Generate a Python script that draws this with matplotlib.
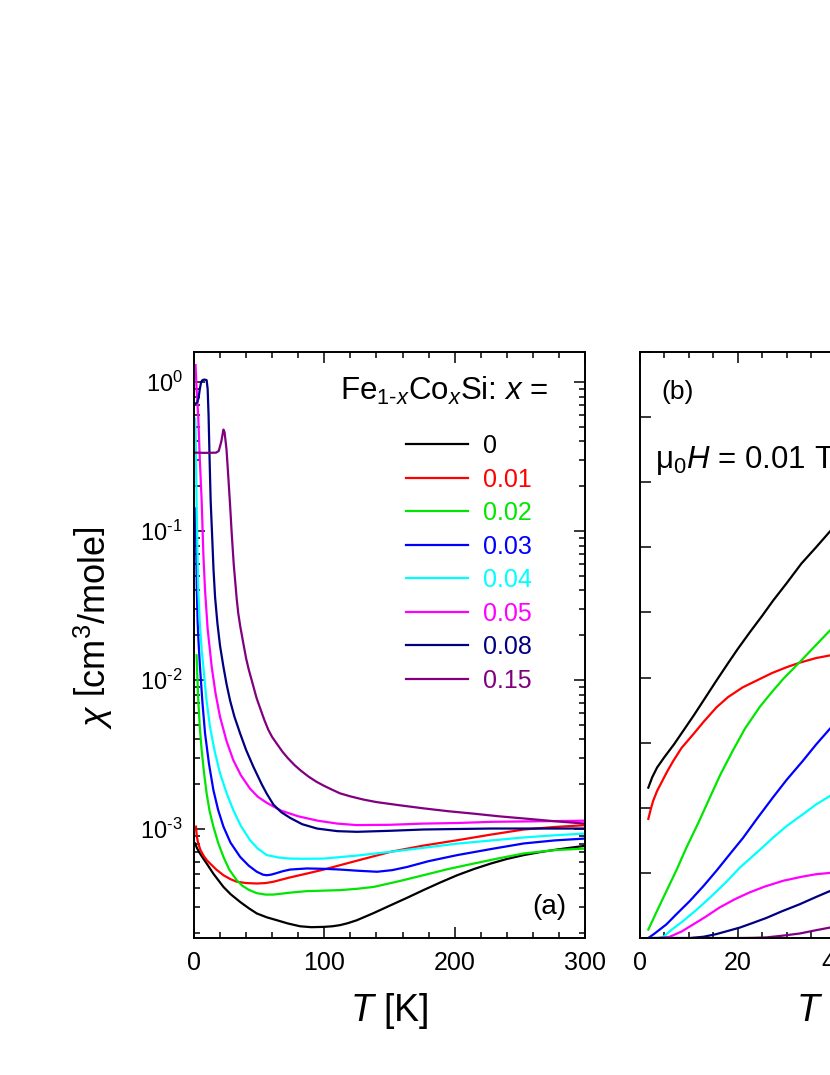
import matplotlib
matplotlib.use('Agg')
import numpy as np
import matplotlib.pyplot as plt
from matplotlib.ticker import MultipleLocator, LogLocator, NullFormatter, FuncFormatter

plt.rcParams['font.family'] = ['Liberation Sans', 'DejaVu Sans']
plt.rcParams['mathtext.fontset'] = 'custom'
plt.rcParams['mathtext.rm'] = 'Liberation Sans'
plt.rcParams['mathtext.it'] = 'Liberation Sans:italic'
plt.rcParams['mathtext.bf'] = 'Liberation Sans:bold'
plt.rcParams['axes.unicode_minus'] = False

# compositions and colours
labels = ['0', '0.01', '0.02', '0.03', '0.04', '0.05', '0.08', '0.15']
colors = ['black', '#ff0000', '#00e600', '#0000ff', '#00ffff', '#ff00ff', '#000080', '#800080']

# panel (a): chi(T) on log scale, cm^3/mole
T_0 = [0.8, 2.5, 4.6, 7, 9.7, 15, 22.6, 28, 35.4, 42, 48.2, 56, 63.6, 72, 81.5, 90, 99.5, 106,
       112, 118, 125, 138, 151, 164, 176, 189, 202, 215, 228, 240, 253, 266, 279, 290, 300]
chi_0 = [8.02e-4, 7.41e-4, 6.87e-4, 6.38e-4, 5.89e-4, 5.01e-4, 4.10e-4, 3.67e-4, 3.25e-4, 2.95e-4,
         2.72e-4, 2.56e-4, 2.45e-4, 2.33e-4, 2.23e-4, 2.20e-4, 2.21e-4, 2.23e-4, 2.27e-4, 2.34e-4,
         2.45e-4, 2.74e-4, 3.09e-4, 3.48e-4, 3.90e-4, 4.39e-4, 4.91e-4, 5.41e-4, 5.89e-4, 6.31e-4,
         6.70e-4, 7.03e-4, 7.31e-4, 7.53e-4, 7.73e-4]

T_01 = [1.5, 2.2, 3.3, 5, 7.5, 10, 12.3, 17, 22.6, 28, 32.8, 40, 48.2, 55, 61, 73, 86.7, 100,
        112, 130, 151, 176, 202, 228, 253, 277, 300]
chi_01 = [1.04e-3, 8.91e-4, 8.02e-4, 7.24e-4, 6.61e-4, 6.17e-4, 5.89e-4, 5.37e-4, 4.91e-4, 4.62e-4,
          4.44e-4, 4.35e-4, 4.32e-4, 4.35e-4, 4.44e-4, 4.73e-4, 5.04e-4, 5.37e-4, 5.73e-4, 6.31e-4,
          7.05e-4, 7.76e-4, 8.43e-4, 9.20e-4, 9.95e-4, 1.035e-3, 1.064e-3]

T_02 = [2, 2.6, 3.3, 4.5, 5.9, 7.7, 9.7, 12, 14.9, 18.5, 22.6, 27, 32.8, 37, 42, 48.2, 55, 61, 75,
        86.7, 100, 112, 125, 138, 157, 176, 195, 215, 234, 253, 277, 300]
chi_02 = [1.47e-2, 1.05e-2, 7.35e-3, 4.79e-3, 3.39e-3, 2.40e-3, 1.74e-3, 1.32e-3, 1.04e-3, 8.13e-4,
          6.52e-4, 5.37e-4, 4.55e-4, 4.18e-4, 3.92e-4, 3.72e-4, 3.64e-4, 3.64e-4, 3.76e-4, 3.84e-4,
          3.87e-4, 3.90e-4, 3.98e-4, 4.10e-4, 4.47e-4, 4.91e-4, 5.40e-4, 5.89e-4, 6.38e-4, 6.87e-4,
          7.24e-4, 7.41e-4]

T_03 = [1.5, 1.8, 2.2, 2.8, 3.5, 4.6, 6.5, 8.5, 11.5, 14.9, 18.5, 22.6, 28, 35.4, 42, 48.2, 53,
        55.9, 59, 62.3, 68, 73.8, 86.7, 100, 112, 126, 140.5, 152, 163.6, 180, 202, 228, 253, 277, 300]
chi_03 = [0.142, 7.0e-2, 4.0e-2, 2.5e-2, 1.8e-2, 1.23e-2, 7.08e-3, 4.39e-3, 2.75e-3, 1.83e-3,
          1.35e-3, 1.04e-3, 8.13e-4, 6.52e-4, 5.69e-4, 5.18e-4, 4.95e-4, 4.91e-4, 4.95e-4, 5.04e-4,
          5.22e-4, 5.36e-4, 5.45e-4, 5.42e-4, 5.36e-4, 5.26e-4, 5.18e-4, 5.31e-4, 5.58e-4, 6.10e-4,
          6.70e-4, 7.36e-4, 8.02e-4, 8.41e-4, 8.65e-4]

T_04 = [1, 1.5, 2, 2.6, 3.3, 4.5, 5.9, 7.2, 9.5, 12.3, 16, 20, 25, 30.2, 36, 43, 49, 55.9, 65,
        73.8, 85, 99.5, 125, 151, 176, 202, 228, 253, 277, 300]
chi_04 = [0.57, 0.35, 0.16, 8.0e-2, 4.0e-2, 2.4e-2, 1.6e-2, 1.23e-2, 7.5e-3, 4.86e-3, 3.3e-3,
          2.37e-3, 1.75e-3, 1.34e-3, 1.05e-3, 8.44e-4, 7.4e-4, 6.7e-4, 6.45e-4, 6.35e-4, 6.33e-4,
          6.35e-4, 6.65e-4, 7.05e-4, 7.5e-4, 8.0e-4, 8.4e-4, 8.8e-4, 9.1e-4, 9.35e-4]

T_05 = [1.2, 2, 3.3, 4.5, 5.9, 7.2, 8.5, 10.5, 13.6, 16.5, 20, 25, 30.2, 36, 43, 49, 56, 61, 67,
        80, 95, 110, 125, 150, 176, 202, 228, 265, 300]
chi_05 = [1.3, 0.9, 0.58, 0.3, 0.16, 7.0e-2, 4.0e-2, 2.2e-2, 1.23e-2, 8.2e-3, 5.67e-3, 3.9e-3,
          2.9e-3, 2.3e-3, 1.87e-3, 1.65e-3, 1.5e-3, 1.42e-3, 1.33e-3, 1.22e-3, 1.14e-3, 1.09e-3,
          1.065e-3, 1.07e-3, 1.09e-3, 1.10e-3, 1.12e-3, 1.13e-3, 1.14e-3]

T_08 = [1.5, 2.5, 3.5, 4.5, 5.5, 6.5, 8, 9.7, 10.5, 11.2, 12, 12.8, 14, 15, 16.2, 18, 20, 22.6,
        25, 27.7, 31, 35.4, 40, 45.6, 52, 56, 61, 67, 73.8, 83, 94.4, 110, 125, 150, 176, 228, 300]
chi_08 = [0.72, 0.73, 0.78, 0.9, 1.0, 1.03, 1.04, 1.03, 0.9, 0.6, 0.3, 0.16, 9.0e-2, 5.5e-2,
          3.6e-2, 2.4e-2, 1.7e-2, 1.23e-2, 9.4e-3, 7.3e-3, 5.7e-3, 4.39e-3, 3.4e-3, 2.62e-3,
          2.0e-3, 1.72e-3, 1.46e-3, 1.3e-3, 1.19e-3, 1.08e-3, 1.01e-3, 9.7e-4, 9.6e-4, 9.75e-4,
          9.95e-4, 1.01e-3, 1.01e-3]

T_15 = [1.5, 8, 17, 19, 21, 22.6, 23.5, 25, 26.5, 27.7, 29, 30.5, 32.8, 34, 35.5, 37.9, 40, 42,
        44, 46, 48, 51, 54, 57, 60, 64, 68, 72, 77, 82, 88, 94, 100, 106, 112, 120, 130, 140, 157,
        176, 195, 215, 234, 253, 277, 300]
chi_15 = [0.336, 0.335, 0.336, 0.345, 0.40, 0.48, 0.46, 0.35, 0.22, 0.15, 9.5e-2, 6.0e-2, 3.5e-2,
          2.8e-2, 2.3e-2, 1.76e-2, 1.40e-2, 1.18e-2, 1.02e-2, 8.8e-3, 7.6e-3, 6.4e-3, 5.4e-3,
          4.65e-3, 4.15e-3, 3.7e-3, 3.3e-3, 3.0e-3, 2.7e-3, 2.47e-3, 2.25e-3, 2.08e-3, 1.95e-3,
          1.84e-3, 1.74e-3, 1.66e-3, 1.58e-3, 1.52e-3, 1.45e-3, 1.38e-3, 1.32e-3, 1.27e-3, 1.22e-3,
          1.18e-3, 1.13e-3, 1.09e-3]

# panel (b): low-T data at 0.01 T, linear scale (arb. units)
Tb_0 = [1.7, 2.5, 3.5, 5, 7, 9, 11, 13, 15.6, 18, 20, 22.5, 25, 27.2, 30, 33, 36, 38.8, 40]
yb_0 = [2.31, 2.47, 2.62, 2.78, 2.98, 3.20, 3.42, 3.65, 3.95, 4.22, 4.44, 4.70, 4.95, 5.18, 5.45,
        5.75, 6.00, 6.24, 6.34]
Tb_01 = [1.7, 2.2, 2.7, 3.5, 4.4, 5.5, 6.8, 8.5, 10.9, 13, 15.6, 18, 21, 24, 27, 30, 32.7, 36,
         38.8, 40]
yb_01 = [1.83, 1.98, 2.11, 2.26, 2.39, 2.55, 2.72, 2.92, 3.13, 3.32, 3.54, 3.70, 3.85, 3.96, 4.07,
         4.16, 4.23, 4.30, 4.34, 4.36]
Tb_02 = [1.7, 3.5, 5.4, 7.5, 9.5, 12, 14.3, 16.5, 19, 21.5, 24.5, 27, 29.3, 32.7, 36, 38.8, 40]
yb_02 = [0.13, 0.42, 0.72, 1.05, 1.39, 1.78, 2.16, 2.52, 2.88, 3.22, 3.55, 3.78, 3.98, 4.24, 4.50,
         4.72, 4.80]
Tb_03 = [1.7, 3, 5.4, 7.5, 10.2, 13, 15.6, 18.5, 21.1, 24, 27.2, 30, 33.3, 36, 38.8, 40]
yb_03 = [0.0, 0.07, 0.21, 0.37, 0.57, 0.80, 1.03, 1.30, 1.54, 1.84, 2.16, 2.43, 2.72, 2.97, 3.21,
         3.31]
Tb_04 = [1.8, 3.5, 4.8, 6.5, 8.8, 11.5, 14.3, 17.5, 20.4, 24, 27.2, 30, 33.3, 36, 38.8, 40]
yb_04 = [0.0, 0.0, 0.02, 0.13, 0.26, 0.43, 0.62, 0.85, 1.08, 1.32, 1.54, 1.72, 1.90, 2.05, 2.18,
         2.23]
Tb_05 = [1.8, 4, 6.1, 8.5, 10.9, 13.5, 16.3, 19.5, 22.4, 25.5, 29.3, 33, 36, 38.8, 40]
yb_05 = [0.0, 0.0, 0.02, 0.10, 0.21, 0.33, 0.47, 0.60, 0.70, 0.79, 0.88, 0.94, 0.98, 1.0, 1.01]
Tb_08 = [1.8, 8, 10.2, 13, 15.6, 18, 20.4, 23, 25.9, 29, 32.7, 36, 38.8, 40]
yb_08 = [0.0, 0.0, 0.0, 0.02, 0.06, 0.11, 0.16, 0.23, 0.31, 0.41, 0.52, 0.63, 0.72, 0.76]
Tb_15 = [1.8, 20, 23, 25.9, 29, 32.7, 36, 38.8, 40]
yb_15 = [0.0, 0.0, 0.003, 0.01, 0.035, 0.07, 0.12, 0.16, 0.18]

Ta = [T_0, T_01, T_02, T_03, T_04, T_05, T_08, T_15]
chia = [chi_0, chi_01, chi_02, chi_03, chi_04, chi_05, chi_08, chi_15]
Tb = [Tb_0, Tb_01, Tb_02, Tb_03, Tb_04, Tb_05, Tb_08, Tb_15]
yb = [yb_0, yb_01, yb_02, yb_03, yb_04, yb_05, yb_08, yb_15]


def decade(v, pos):
    e = int(round(np.log10(v)))
    return r'$10^{%s}$' % str(e).replace('-', r'\text{-}')


fig = plt.figure(figsize=(8.3, 10.75), dpi=100)
ax1 = fig.add_axes([0.2337, 0.1274, 0.4711, 0.5451])
ax2 = fig.add_axes([0.7711, 0.1274, 0.4711, 0.5451])

lines = []
for i in range(len(labels)):
    l, = ax1.semilogy(Ta[i], chia[i], color=colors[i], lw=1.6, label=labels[i])
    lines.append(l)
    ax2.plot(Tb[i], yb[i], color=colors[i], lw=1.6)

ax1.set_xlim(0, 300)
ax1.set_ylim(1.86e-4, 1.59)
ax1.xaxis.set_major_locator(MultipleLocator(100))
ax1.xaxis.set_minor_locator(MultipleLocator(20))
ax1.yaxis.set_major_locator(LogLocator(base=10))
ax1.yaxis.set_major_formatter(FuncFormatter(decade))
ax1.yaxis.set_minor_locator(LogLocator(base=10, subs=range(2, 10)))
ax1.yaxis.set_minor_formatter(NullFormatter())

ax2.set_xlim(0, 80)
ax2.set_ylim(0, 9)
ax2.xaxis.set_major_locator(MultipleLocator(20))
ax2.xaxis.set_minor_locator(MultipleLocator(5))
ax2.yaxis.set_major_locator(MultipleLocator(1))
ax2.set_yticklabels([])

for ax in (ax1, ax2):
    for sp in ax.spines.values():
        sp.set_linewidth(1.4)
    ax.tick_params(which='both', direction='in', top=True, right=True, width=1.1)
    ax.tick_params(which='major', length=8)
    ax.tick_params(which='minor', length=4.5)
    ax.tick_params(axis='x', pad=9, labelsize=18)
    ax.tick_params(axis='y', pad=8, labelsize=17)
    ax.set_xlabel('$T$ [K]', fontsize=27, labelpad=12)

ax1.set_ylabel(r'$\chi$ $\left[\mathrm{cm^3/mole}\right]$', fontsize=26)
ax1.yaxis.set_label_coords(-0.202, 0.529)

ax1.legend(handles=lines, loc='upper left', bbox_to_anchor=(0.542, 0.860), frameon=False,
           fontsize=18, handlelength=2.5, handletextpad=0.6, labelspacing=0.38,
           borderpad=0, borderaxespad=0, labelcolor='linecolor')
ax1.text(0.905, 0.918, r'Fe$_{1\text{-}x}$Co$_x$Si: $x$ =', transform=ax1.transAxes,
         ha='right', va='baseline', fontsize=22.5)
ax1.text(0.91, 0.053, '(a)', transform=ax1.transAxes, ha='center', va='center', fontsize=20)

ax2.text(0.097, 0.932, '(b)', transform=ax2.transAxes, ha='center', va='center', fontsize=19)
ax2.text(0.038, 0.802, r'μ$_0H$ = 0.01 T', transform=ax2.transAxes,
         ha='left', va='baseline', fontsize=22.5)

fig.savefig('out.png', dpi=100)
